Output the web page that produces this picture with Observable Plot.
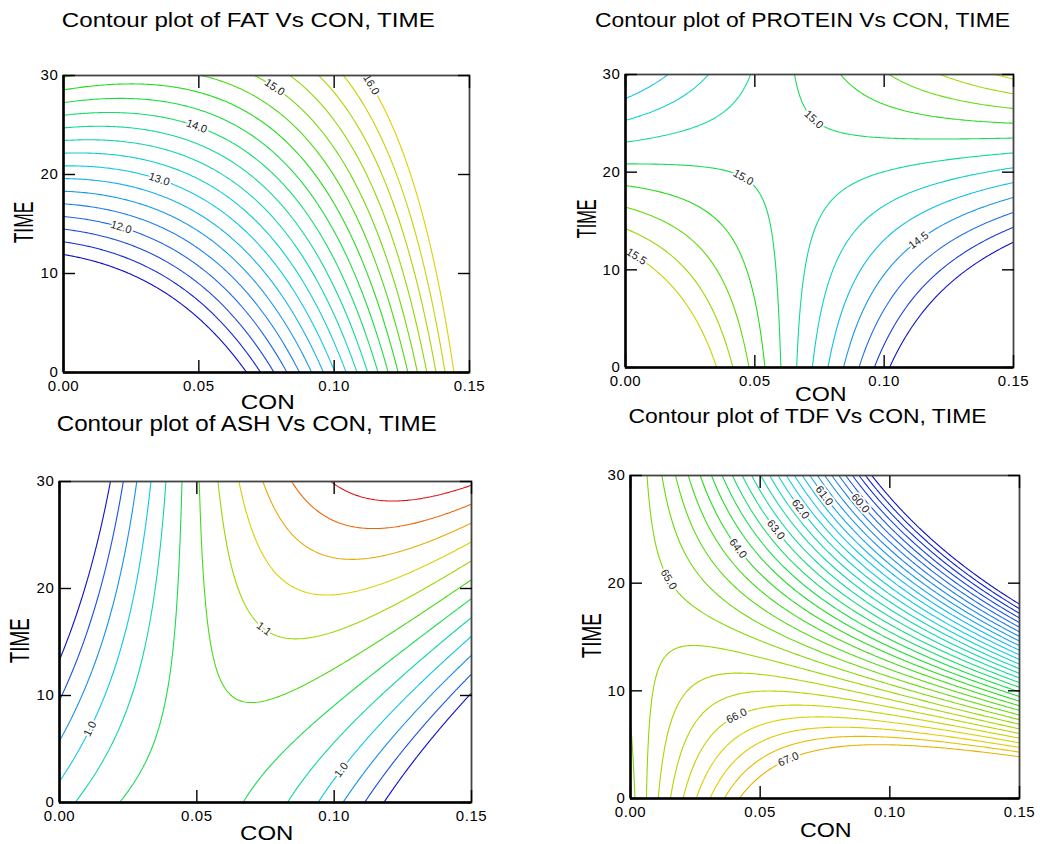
<!DOCTYPE html>
<html>
<head>
<meta charset="utf-8">
<script src="https://cdn.jsdelivr.net/npm/d3@7"></script>
<script src="https://cdn.jsdelivr.net/npm/@observablehq/plot@0.6"></script>
<style>
html, body { margin: 0; padding: 0; background: #fff; }
#root { position: relative; width: 1040px; height: 844px; overflow: hidden; font-family: "Liberation Sans", Arial, sans-serif; }
.panel { position: absolute; }
.panel svg { overflow: visible; }
.panel g[aria-label="x-axis tick label"] text, .panel g[aria-label="y-axis tick label"] text { letter-spacing: 0.6px; }
#overlay { position: absolute; left: 0; top: 0; pointer-events: none; }
</style>
</head>
<body>
<div id="root"></div>
<script>
// ---------------- data ----------------
const conDomain = [0, 0.15];
const timeDomain = [0, 30];
const conTicks = [0, 0.05, 0.10, 0.15];
const timeTicks = [0, 10, 20, 30];

const titles = ["Contour plot of FAT Vs CON, TIME", "Contour plot of PROTEIN Vs CON, TIME",
                "Contour plot of ASH Vs CON, TIME", "Contour plot of TDF Vs CON, TIME"];
const xLabel = "CON";
const yLabel = "TIME";

// Fitted response surfaces, in scaled units X = CON/0.15, Y = TIME/30
// terms: [1, X, Y, X^2, Y^2, X*Y, X^2*Y]
const fatCoef     = [8.92, 3.225, 5.865, 4.30, 0, -4.79, 0];
const proteinCoef = [16.191, -2.886, -1.74, -0.22, 0.0375, 4.156, 0];
const ashCoef     = [1.013, 0.337, -0.198, -0.57, 0, 0.623, 0];
const tdfCoef     = [64.9, 8.73, 0.45, -4.38, -0.1, -14.28, -3.56];

// contour levels drawn in each plot
const fatLevels = [11.25, 11.5, 11.75, 12, 12.25, 12.5, 12.75, 13, 13.25, 13.5, 13.75, 14,
                   14.25, 14.5, 14.75, 15, 15.25, 15.5, 15.75, 16];
const proteinLevels = [14.125, 14.25, 14.375, 14.5, 14.625, 14.75, 14.875, 15, 15.125, 15.25, 15.375, 15.5];
const ashLevels = [0.925, 0.95, 0.975, 1.0, 1.025, 1.05, 1.075, 1.1, 1.125, 1.15, 1.175, 1.2];
const tdfLevels = [58.75, 59, 59.25, 59.5, 59.75, 60, 60.25, 60.5, 60.75, 61, 61.25, 61.5, 61.75,
                   62, 62.25, 62.5, 62.75, 63, 63.25, 63.5, 63.75, 64, 64.25, 64.5, 64.75,
                   65, 65.25, 65.5, 65.75, 66, 66.25, 66.5, 66.75, 67];

// contour labels: [level, approx CON, approx TIME]
const fatLabels = [[12.0, 0.021, 14.4], [13.0, 0.035, 19.2], [14.0, 0.049, 24.7], [15.0, 0.077, 28.4], [16.0, 0.111, 28.6]];
const proteinLabels = [[15.0, 0.0695, 24.4], [15.0, 0.0456, 19.5], [14.5, 0.112, 13.5], [15.5, 0.0031, 10.9]];
const ashLabels = [[1.0, 0.0087, 7.2], [1.1, 0.0772, 17.25], [1.0, 0.1006, 3.45]];
const tdfLabels = [[60.0, 0.09, 27.7], [61.0, 0.0746, 28.1], [62.0, 0.0649, 26.75], [63.0, 0.0546, 24.7],
                   [64.0, 0.0386, 22.7], [65.0, 0.0087, 19.8], [66.0, 0.0398, 8.3], [67.0, 0.0598, 4.3]];

// ---------------- styles / layout ----------------
const paletteStops = [0, 0.13, 0.27, 0.40, 0.50, 0.62, 0.74, 0.86, 1];
const paletteColors = ["#1010c8", "#2070e8", "#10c8e8", "#10dc8c", "#20dc20", "#90d800", "#e0d000", "#f09000", "#e01010"];

const panels = [
  {coef: fatCoef, levels: fatLevels, labels: fatLabels, tTop: 0.74,
   box: {left: 0, top: 0, width: 520, height: 420, ml: 63, mr: 51, mt: 75, mb: 48}},
  {coef: proteinCoef, levels: proteinLevels, labels: proteinLabels, tTop: 0.70,
   box: {left: 520, top: 0, width: 520, height: 420, ml: 105, mr: 27, mt: 74, mb: 53}},
  {coef: ashCoef, levels: ashLevels, labels: ashLabels, tTop: 1.0,
   box: {left: 0, top: 420, width: 520, height: 424, ml: 59, mr: 49, mt: 61, mb: 42}},
  {coef: tdfCoef, levels: tdfLevels, labels: tdfLabels, tTop: 0.80,
   box: {left: 520, top: 420, width: 520, height: 424, ml: 110, mr: 21, mt: 55, mb: 46}}
];

const titlePos = [{x: 248.3, y: 26.7, w: 373, fs: 21}, {x: 802.5, y: 26.7, w: 415, fs: 21},
                  {x: 246.7, y: 430.5, w: 380, fs: 22}, {x: 807.5, y: 423, w: 358, fs: 21}];
const xLabelPos = [{x: 267.8, y: 409, w: 54, fs: 20}, {x: 820.8, y: 401, w: 51.7, fs: 20},
                   {x: 266.7, y: 840, w: 53.3, fs: 20}, {x: 825.8, y: 836.5, w: 51.7, fs: 20}];
const yLabelPos = [{x: 33, y: 222.5, w: 41.7, fs: 27}, {x: 596, y: 218.8, w: 39, fs: 27},
                   {x: 29.3, y: 640.8, w: 45, fs: 27}, {x: 601, y: 635.8, w: 45, fs: 27}];

// ---------------- helpers ----------------
function surface(c, X, Y) {
  return c[0] + c[1]*X + c[2]*Y + c[3]*X*X + c[4]*Y*Y + c[5]*X*Y + c[6]*X*X*Y;
}
function gradient(c, X, Y) {
  return [c[1] + 2*c[3]*X + c[5]*Y + 2*c[6]*X*Y, c[2] + 2*c[4]*Y + c[5]*X + c[6]*X*X];
}
const cMax = conDomain[1], tMax = timeDomain[1];

function labelRows(coef, labels, W, H) {
  return labels.map(([level, con, time]) => {
    let X = con / cMax, Y = time / tMax;
    for (let k = 0; k < 40; k++) {
      const diff = surface(coef, X, Y) - level;
      const [fX, fY] = gradient(coef, X, Y);
      const gx = fX / W, gy = fY / H;
      const s = diff / (gx*gx + gy*gy);
      X -= s * gx / W; Y -= s * gy / H;
      X = Math.max(0.01, Math.min(0.99, X)); Y = Math.max(0.01, Math.min(0.99, Y));
    }
    const [fX, fY] = gradient(coef, X, Y);
    const gx = fX / W, gy = fY / H;
    let angle = Math.atan2(gx, gy) * 180 / Math.PI;
    if (angle > 90) angle -= 180;
    if (angle < -90) angle += 180;
    return {con: X * cMax, time: Y * tMax, text: level.toFixed(1), angle};
  });
}

const root = document.getElementById("root");

panels.forEach((p) => {
  const b = p.box;
  const W = b.width - b.ml - b.mr, H = b.height - b.mt - b.mb;
  const lo = p.levels[0], hi = p.levels[p.levels.length - 1];
  const colorDomain = paletteStops.map(t => lo + t * (hi - lo) / p.tTop);
  const f = (con, time) => surface(p.coef, con / cMax, time / tMax);
  const rows = labelRows(p.coef, p.labels, W, H);
  // sample slightly beyond the frame so polygon borders fall outside the clip
  const padC = (conDomain[1] - conDomain[0]) * 0.02, padT = (timeDomain[1] - timeDomain[0]) * 0.02;

  const chart = Plot.plot({
    width: b.width, height: b.height,
    marginLeft: b.ml, marginRight: b.mr, marginTop: b.mt, marginBottom: b.mb,
    x: {domain: conDomain},
    y: {domain: timeDomain},
    color: {type: "linear", domain: colorDomain, range: paletteColors, interpolate: "rgb"},
    style: {fontFamily: "'Liberation Sans', Arial, sans-serif", fontSize: "15px", color: "#000", background: "transparent"},
    marks: [
      Plot.contour({value: f, x1: conDomain[0] - padC, x2: conDomain[1] + padC,
                    y1: timeDomain[0] - padT, y2: timeDomain[1] + padT,
                    thresholds: p.levels, stroke: "value", fill: "none", strokeWidth: 1.1, clip: true}),
      Plot.text(rows, {x: "con", y: "time", text: "text", rotate: "angle", fontSize: 11,
                       fill: "#222", stroke: "white", strokeWidth: 4}),
      Plot.frame({stroke: "#444", strokeWidth: 1.8}),
      Plot.ruleY([timeDomain[0]], {stroke: "#000", strokeWidth: 2.5}),
      Plot.ruleX([conDomain[0]], {stroke: "#000", strokeWidth: 2.5}),
      Plot.axisX(conTicks, {anchor: "bottom", tickSize: -12, strokeWidth: 1.4, fill: "none", label: null}),
      Plot.axisX(conTicks, {anchor: "top", tickSize: -12, strokeWidth: 1.4, fill: "none", label: null}),
      Plot.axisY(timeTicks, {anchor: "left", tickSize: -12, strokeWidth: 1.4, fill: "none", label: null}),
      Plot.axisY(timeTicks, {anchor: "right", tickSize: -12, strokeWidth: 1.4, fill: "none", label: null}),
      Plot.axisX(conTicks, {anchor: "bottom", tickSize: 0, tickPadding: 8, tickFormat: d => d.toFixed(2), label: null, fontSize: 15}),
      Plot.axisY(timeTicks, {anchor: "left", tickSize: 0, tickPadding: 5, tickFormat: d => String(d), label: null, fontSize: 15})
    ]
  });
  const div = document.createElement("div");
  div.className = "panel";
  div.style.left = b.left + "px";
  div.style.top = b.top + "px";
  div.appendChild(chart);
  root.appendChild(div);
});

// titles and axis names as real SVG text
const ns = "http://www.w3.org/2000/svg";
const overlay = document.createElementNS(ns, "svg");
overlay.setAttribute("id", "overlay");
overlay.setAttribute("width", 1040);
overlay.setAttribute("height", 844);
function addText(str, pos, rotate) {
  const t = document.createElementNS(ns, "text");
  t.textContent = str;
  t.setAttribute("text-anchor", "middle");
  t.setAttribute("font-family", "'Liberation Sans', Arial, sans-serif");
  t.setAttribute("font-size", pos.fs);
  t.setAttribute("fill", "#000");
  t.setAttribute("textLength", pos.w);
  t.setAttribute("lengthAdjust", "spacingAndGlyphs");
  t.setAttribute("transform", `translate(${pos.x},${pos.y})` + (rotate ? " rotate(-90)" : ""));
  overlay.appendChild(t);
}
titles.forEach((s, i) => addText(s, titlePos[i], false));
xLabelPos.forEach(pos => addText(xLabel, pos, false));
yLabelPos.forEach(pos => addText(yLabel, pos, true));
root.appendChild(overlay);
</script>
</body>
</html>
